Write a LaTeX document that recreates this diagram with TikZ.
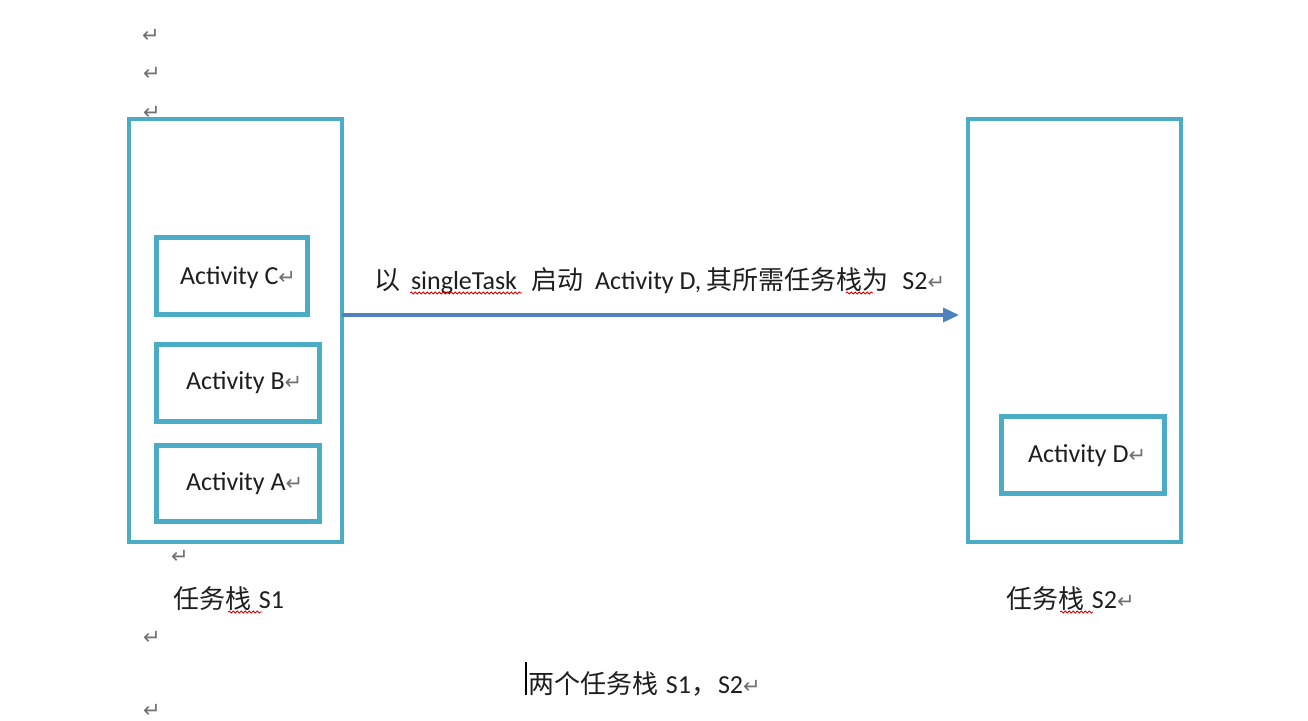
\documentclass[tikz,border=0pt]{standalone}
\usepackage{fontspec}
\setmainfont{Carlito}
\newfontfamily\cjk{Noto Sans CJK SC}
\newfontfamily\dejavu{DejaVu Sans}
\usetikzlibrary{arrows.meta,decorations.pathmorphing}
\definecolor{teal}{HTML}{4BACC6}
\definecolor{flowblue}{HTML}{4F81BD}
\definecolor{retgray}{HTML}{707070}
\definecolor{txt}{HTML}{1E1E1E}
\newcommand{\retmark}{{\color{retgray}\dejavu\fontsize{21}{21}\selectfont ↵}}
\tikzset{
  stackbox/.style={draw=teal, line width=4.5pt, inner sep=0pt, outer sep=0pt, minimum width=213pt, minimum height=423pt},
  actbox/.style={draw=teal, line width=5pt, inner sep=0pt, outer sep=0pt, minimum height=77pt},
  txtnode/.style={anchor=base west, inner sep=0pt, outer sep=0pt, text=txt, font=\fontsize{26}{30}\selectfont},
  retnode/.style={inner sep=0pt, outer sep=0pt, text=retgray, font=\dejavu\fontsize{21}{21}\selectfont},
  flow/.style={draw=flowblue, line width=3.5pt, -{Triangle[length=16pt,width=14pt]}},
  squig/.style={draw=red!85!black, line width=0.8pt, decorate, decoration={snake, segment length=4pt, amplitude=1pt}}
}
\begin{document}
\begin{tikzpicture}[x=1pt,y=-1pt]
\fill[white] (0,0) rectangle (1308,720);
\useasboundingbox (0,0) rectangle (1308,720);

% paragraph marks
\node[retnode] (r0) at (151,36) {↵};
\node[retnode] (r1) at (152,74) {↵};
\node[retnode] (r2) at (152,113) {↵};
\node[retnode] (r3) at (180,557) {↵};
\node[retnode] (r4) at (152,638) {↵};
\node[retnode] (r5) at (152,711) {↵};

% stacks
\node[stackbox] (s1) at (235.5,330.5) {};
\node[stackbox] (s2) at (1074.5,330.5) {};

% activity boxes
\node[actbox, minimum width=151pt] (bc) at (231.5,275.5) {};
\node[actbox, minimum width=163pt] (bb) at (237.5,382.5) {};
\node[actbox, minimum width=163pt, minimum height=76pt] (ba) at (237.5,483) {};
\node[actbox, minimum width=163pt] (bd) at (1082.5,454.5) {};

% activity texts
\node[txtnode] (tc) at (180,284) {Activity C\retmark};
\node[txtnode] (tb) at (186,389) {Activity B\retmark};
\node[txtnode] (ta) at (186,490) {Activity A\retmark};
\node[txtnode] (td) at (1028,462) {Activity D\retmark};

% arrow
\coordinate (ay) at (0,315);
\draw[flow] (s1.east |- ay) -- ([xshift=-9pt]s2.west |- ay);
\node[txtnode] (lbl) at (374,289) {{\cjk 以}\hspace{11pt}singleTask\hspace{14pt}{\cjk 启动}\hspace{12pt}Activity D,\hspace{5pt}{\cjk 其所需任务栈为}\hspace{14pt}S2\retmark};

% stack labels
\node[txtnode] (l1) at (173,608) {{\cjk 任务栈}\hspace{2pt} S1};
\node[txtnode] (l2) at (1006,608) {{\cjk 任务栈}\hspace{2pt} S2\retmark};
\node[txtnode] (cap) at (528,693) {{\cjk 两个任务栈}\hspace{2pt} S1{\cjk ，}\hspace{1pt}S2\retmark};
\draw[black, line width=2pt] (526,662) -- (526,695);

% spelling squiggles
\draw[squig] (410,293) -- (522,293);
\draw[squig] (846,293) -- (873,293);
\draw[squig] (228,612) -- (262,612);
\draw[squig] (1060,612) -- (1093,612);
\end{tikzpicture}
\end{document}
